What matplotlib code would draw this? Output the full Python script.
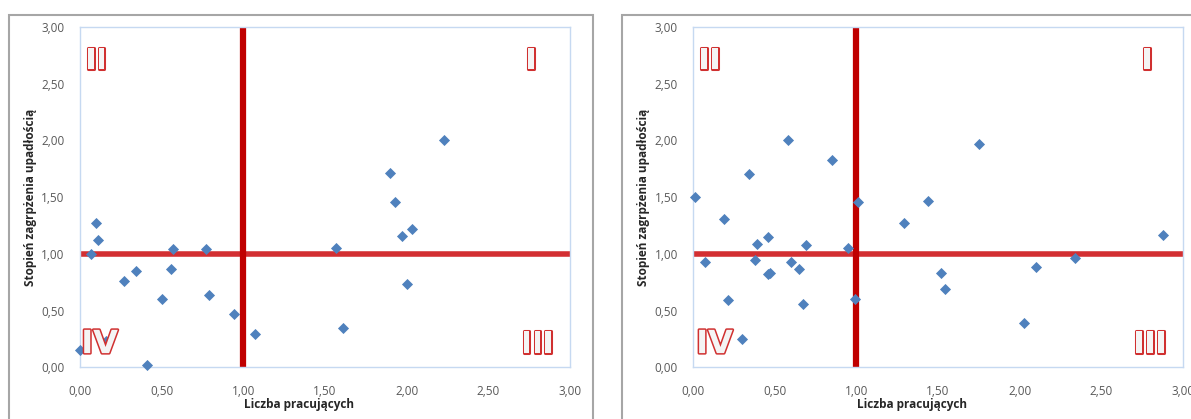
import matplotlib.pyplot as plt
import matplotlib.patheffects as pe
from matplotlib.patches import Rectangle
from matplotlib.ticker import FuncFormatter

# lewy wykres
x_left = [0.00, 0.07, 0.10, 0.11, 0.16, 0.27, 0.34, 0.41, 0.50, 0.56, 0.57, 0.77,
          0.79, 0.94, 1.07, 1.57, 1.61, 2.23, 1.90, 1.93, 2.03, 1.97, 2.00]
y_left = [0.15, 1.00, 1.27, 1.12, 0.23, 0.76, 0.85, 0.02, 0.60, 0.87, 1.04, 1.04,
          0.64, 0.47, 0.29, 1.05, 0.35, 2.00, 1.71, 1.46, 1.22, 1.16, 0.73]

# prawy wykres
x_right = [0.01, 0.07, 0.19, 0.21, 0.30, 0.34, 0.38, 0.39, 0.46, 0.46, 0.47, 0.58,
           0.60, 0.65, 0.67, 0.69, 0.85, 0.95, 0.99, 1.01, 1.29, 1.44, 1.52, 1.54,
           1.75, 2.88, 2.34, 2.10, 2.03]
y_right = [1.50, 0.93, 1.31, 0.59, 0.25, 1.70, 0.95, 1.09, 1.15, 0.82, 0.83, 2.00,
           0.93, 0.87, 0.56, 1.08, 1.83, 1.05, 0.60, 1.46, 1.27, 1.47, 0.83, 0.69,
           1.97, 1.17, 0.96, 0.88, 0.39]

quadrants = ["I", "II", "III", "IV"]
x_label = "Liczba pracujących"
y_label = "Stopień zagrpżenia upadłością"

plt.rcParams['font.family'] = ['Open Sans', 'DejaVu Sans']

fig = plt.figure(figsize=(11.91, 4.19), dpi=100)

# ramki obszarow wykresow
fig.patches.append(Rectangle((9 / 1191, -0.1), 584 / 1191, 1.1 - 15 / 419,
                             transform=fig.transFigure, fill=False,
                             edgecolor='#a6a6a6', linewidth=1.5))
fig.patches.append(Rectangle((622 / 1191, -0.1), 0.6, 1.1 - 15 / 419,
                             transform=fig.transFigure, fill=False,
                             edgecolor='#a6a6a6', linewidth=1.5))


def draw(ax, xs, ys, pos):
    ax.scatter(xs, ys, marker='D', s=32, color='#4f81bd', zorder=3,
               linewidths=0, clip_on=False)
    ax.plot([0, 3], [1, 1], color='#d32f32', linewidth=4, zorder=2,
            solid_capstyle='butt')
    ax.plot([1, 1], [0, 3], color='#c00000', linewidth=4.5, zorder=2,
            solid_capstyle='butt')
    ax.set_xlim(0, 3)
    ax.set_ylim(0, 3)
    ax.set_xticks([0, 0.5, 1, 1.5, 2, 2.5, 3])
    ax.set_yticks([0, 0.5, 1, 1.5, 2, 2.5, 3])
    fmt = FuncFormatter(lambda v, p: f"{v:.2f}".replace('.', ','))
    ax.xaxis.set_major_formatter(fmt)
    ax.yaxis.set_major_formatter(fmt)
    ax.tick_params(length=0, labelsize=8.5, colors='#595959')
    ax.tick_params(axis='x', pad=13)
    ax.tick_params(axis='y', pad=11)
    for s in ax.spines.values():
        s.set_color('#c6d9f1')
        s.set_linewidth(1)
    ax.set_ylabel(y_label, fontsize=8.5, fontweight='bold', color='#262626',
                  labelpad=3)
    outline = [pe.withStroke(linewidth=2.2, foreground='#d03030')]
    kw = dict(ha='center', va='center', color='#f4f4f4', fontweight='bold',
              path_effects=outline, zorder=4,
              family=['Liberation Sans Narrow', 'DejaVu Sans'])
    ax.text(pos[0], 2.70, quadrants[1], fontsize=21, **kw)
    ax.text(pos[1], 2.70, quadrants[0], fontsize=21, **kw)
    ax.text(pos[2], 0.20, quadrants[2], fontsize=21, **kw)
    ax.text(pos[3], 0.20, quadrants[3], fontsize=23, **kw)


ax1 = fig.add_axes([80 / 1191, 51.7 / 419, 490 / 1191, 340.3 / 419])
draw(ax1, x_left, y_left, [0.10, 2.76, 2.80, 0.12])
ax1.text(1.34, -0.33, x_label, ha='center', va='center', fontsize=8.5,
         fontweight='bold', color='#262626')

ax2 = fig.add_axes([693.3 / 1191, 51.7 / 419, 489.4 / 1191, 340.3 / 419])
draw(ax2, x_right, y_right, [0.10, 2.78, 2.80, 0.13])
ax2.text(1.34, -0.33, x_label, ha='center', va='center', fontsize=8.5,
         fontweight='bold', color='#262626')

fig.savefig("out.png", dpi=100)
